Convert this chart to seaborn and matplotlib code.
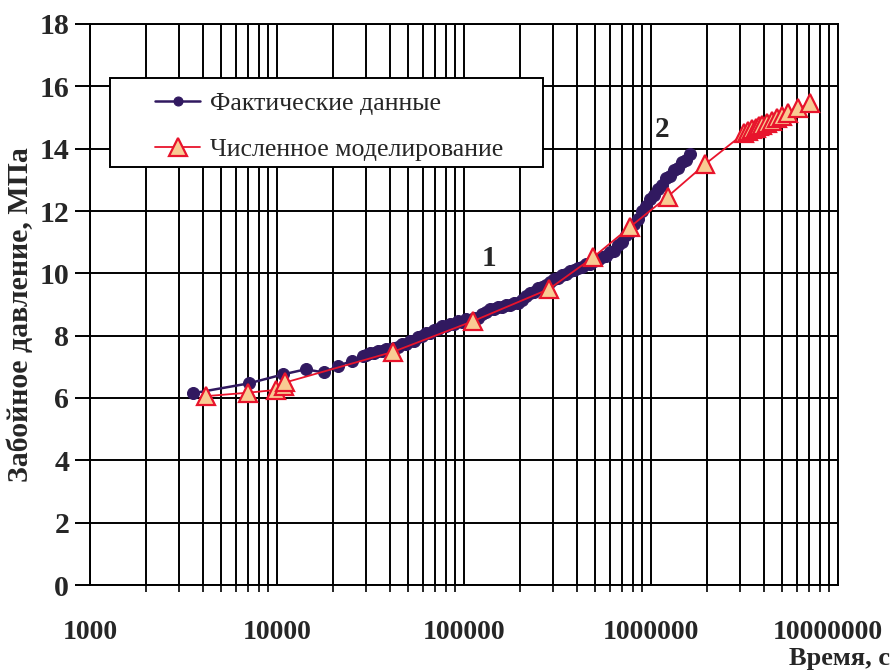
import numpy as np
import pandas as pd
import matplotlib
matplotlib.use("Agg")
import matplotlib.pyplot as plt
import matplotlib.ticker as mticker
import matplotlib.transforms as mtrans
from matplotlib.patches import Rectangle
import seaborn as sns

# ---------------- data ----------------
fact_time = [3540, 7080, 10820, 14220, 17800, 21270, 25080, 28710,
             29910, 31430, 33020, 34690, 36440, 38290, 40220, 42260, 44390, 46630,
             48980, 51450, 54050, 56780, 59640, 62650, 65810, 69140, 72620, 76290,
             80130, 84180, 88430, 92890, 97570, 102500, 107700, 113100, 118800, 124800,
             131100, 137700, 144700, 152000, 159700, 167700, 176200, 185100, 194500, 204300,
             214600, 225400, 236800, 248800, 261300, 274500, 288400, 302900, 318200, 334300,
             351200, 368900, 387500, 407100, 427600, 449200, 471900, 495700, 520700, 547000,
             574600, 603600, 634100, 666100, 699700, 735000, 772100, 811100, 852000, 895000,
             940200, 987800, 1037600, 1090000, 1145000, 1203000, 1264000, 1327000, 1394000,
             1465000, 1539000, 1617000]
fact_p = [6.15, 6.47, 6.76, 6.92, 6.82, 7.03, 7.19, 7.34,
          7.37, 7.43, 7.44, 7.51, 7.50, 7.56, 7.56, 7.62, 7.63, 7.72,
          7.73, 7.83, 7.84, 7.96, 7.99, 8.09, 8.10, 8.19, 8.21, 8.31,
          8.32, 8.39, 8.39, 8.46, 8.45, 8.53, 8.51, 8.57, 8.58, 8.68,
          8.75, 8.85, 8.86, 8.92, 8.91, 8.99, 8.97, 9.05, 9.04, 9.16,
          9.26, 9.37, 9.41, 9.52, 9.55, 9.64, 9.71, 9.81, 9.84, 9.95,
          9.98, 10.06, 10.10, 10.17, 10.21, 10.30, 10.31, 10.41, 10.44, 10.54,
          10.57, 10.69, 10.73, 10.90, 11.00, 11.22, 11.34, 11.57, 11.75, 12.00,
          12.16, 12.37, 12.51, 12.72, 12.85, 13.05, 13.13, 13.30, 13.39,
          13.56, 13.65, 13.83]

model_time = [4170, 7000, 9880, 10900, 11100, 41700, 112200, 285700, 492000, 773000,
              1227000, 1946000, 3160000, 3310000, 3480000, 3630000, 3780000, 3940000,
              4160000, 4420000, 4700000, 5000000, 5420000, 6130000, 7080000]
model_p = [6.06, 6.17, 6.26, 6.40, 6.50, 7.48, 8.47, 9.50, 10.52, 11.49,
           12.46, 13.50, 14.50, 14.56, 14.62, 14.67, 14.72, 14.76,
           14.83, 14.90, 14.97, 15.05, 15.14, 15.29, 15.46]

label_fact = "Фактические данные"
label_model = "Численное моделирование"
x_ticks = [1000, 10000, 100000, 1000000, 10000000]
y_ticks = [0, 2, 4, 6, 8, 10, 12, 14, 16, 18]
annotations = [("1", 136000, 10.49), ("2", 1146000, 14.6)]

fact_df = pd.DataFrame({"t": fact_time, "p": fact_p})
model_df = pd.DataFrame({"t": model_time, "p": model_p})

# ---------------- style ----------------
sns.set_theme(style="white")
plt.rcParams["font.family"] = ["Liberation Serif", "DejaVu Serif"]

PURPLE = "#311960"
RED = "#E8142C"
PEACH = "#F9CB93"

W, H = 893, 671
fig = plt.figure(figsize=(W / 100, H / 100), dpi=100)
ax = fig.add_axes([90 / W, 1 - 585 / H, 748 / W, 561 / H])

sns.lineplot(data=fact_df, x="t", y="p", ax=ax, sort=False, estimator=None,
             color=PURPLE, linewidth=1.8, marker="o", markersize=8.6,
             markeredgecolor=PURPLE, markerfacecolor=PURPLE, label=label_fact,
             legend=False, zorder=4)
sns.lineplot(data=model_df, x="t", y="p", ax=ax, sort=False, estimator=None,
             color=RED, linewidth=1.3, marker="^", markersize=13.5,
             markeredgecolor=RED, markerfacecolor=PEACH, markeredgewidth=1.6,
             label=label_model, legend=False, zorder=5)

ax.set_xscale("log")
ax.set_xlim(1000, 10000000)
ax.set_ylim(0, 18)
ax.set_xticks(x_ticks)
ax.xaxis.set_major_formatter(mticker.FuncFormatter(lambda v, p: f"{int(round(v))}"))
ax.xaxis.set_minor_locator(mticker.LogLocator(base=10, subs=np.arange(2, 10)))
ax.xaxis.set_minor_formatter(mticker.NullFormatter())
ax.set_yticks(y_ticks)

ax.grid(which="both", axis="x", color="black", linewidth=1.4)
ax.grid(which="major", axis="y", color="black", linewidth=1.4)
ax.set_axisbelow(True)
for s in ax.spines.values():
    s.set_color("black")
    s.set_linewidth(1.4)

ax.tick_params(axis="x", which="major", direction="out", length=10, width=1.4,
               color="black", pad=15, labelsize=20)
ax.tick_params(axis="x", which="minor", direction="out", length=5, width=1.2,
               color="black", bottom=True)
ax.tick_params(axis="y", which="major", direction="out", length=11, width=1.4,
               color="black", pad=4, labelsize=21.5, left=True)
for lbl in ax.get_xticklabels() + ax.get_yticklabels():
    lbl.set_fontweight("bold")
# keep the last x label inside the figure
last = ax.get_xticklabels()[-1]
last.set_transform(last.get_transform() +
                   mtrans.ScaledTranslation(-10 / 100, 0, fig.dpi_scale_trans))

ax.set_xlabel("")
ax.set_ylabel("")
fig.text(890 / W, 1 - 658 / H, "Время, с", ha="right", va="center",
         fontsize=19, fontweight="bold")
fig.text(21 / W, 1 - 315 / H, "Забойное давление, МПа", ha="center", va="center",
         rotation=90, fontsize=21.5, fontweight="bold")

for txt, xv, yv in annotations:
    ax.text(xv, yv, txt, ha="center", va="center", fontsize=21, fontweight="bold", zorder=6)

# legend frame (drawn as a box above the grid)
ax.add_patch(Rectangle(((110 - 90) / 748, (585 - 167) / 561), 433 / 748, 89 / 561,
                       transform=ax.transAxes, facecolor="white", edgecolor="black",
                       linewidth=1.4, zorder=8, clip_on=False))
fs = 18.6
fs_px = fs * 100 / 72
handles = ax.get_lines()[:2]
leg = ax.legend(handles=handles, labels=[label_fact, label_model],
                loc="upper left", bbox_to_anchor=(155 / W, 1 - 92 / H),
                bbox_transform=fig.transFigure, fontsize=fs, frameon=False,
                borderpad=0, borderaxespad=0, handlelength=45 / fs_px,
                handletextpad=10 / fs_px, labelspacing=0.87)
leg.set_zorder(10)
for ln in leg.get_lines():
    if ln.get_marker() == "o":
        ln.set_markersize(6.5)
    else:
        ln.set_markersize(12.5)

fig.savefig("out.png", dpi=100)
